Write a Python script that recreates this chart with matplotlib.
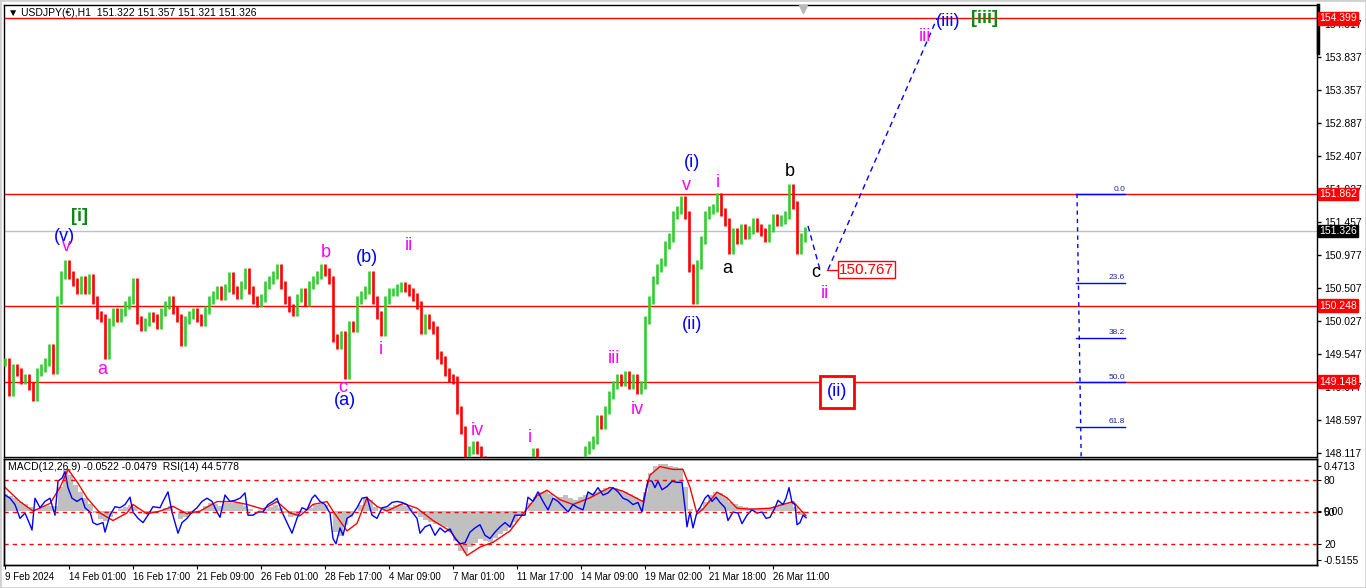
import matplotlib.pyplot as plt
import matplotlib.patches as mpatches
import numpy as np

plt.rcParams['font.family'] = ['Liberation Sans', 'DejaVu Sans']

# ================================ data ================================

# USDJPY H1 closes, read every 4 hourly bars (bar 0 = 9 Feb 2024)
bar_step = 4
closes = [
    149.43, 149.00, 149.35, 149.29, 149.17, 149.20, 149.09, 148.93, 149.29, 149.35,
    149.43, 149.64, 149.32, 150.33, 150.69, 150.84, 150.69, 150.59, 150.47, 150.62,
    150.47, 150.65, 150.33, 150.11, 150.07, 149.53, 150.01, 150.16, 150.07, 150.16,
    150.26, 150.33, 150.59, 150.04, 149.94, 150.01, 150.10, 150.07, 149.97, 150.16,
    150.26, 150.33, 150.18, 150.07, 149.72, 150.04, 150.11, 150.16, 150.07, 150.01,
    150.18, 150.33, 150.40, 150.47, 150.39, 150.50, 150.68, 150.47, 150.40, 150.55,
    150.73, 150.47, 150.33, 150.29, 150.36, 150.55, 150.62, 150.69, 150.79, 150.55,
    150.33, 150.21, 150.16, 150.36, 150.44, 150.30, 150.55, 150.62, 150.69, 150.79,
    150.73, 150.62, 149.78, 149.68, 149.82, 149.25, 149.97, 149.92, 150.33, 150.40,
    150.47, 150.69, 150.33, 150.11, 149.87, 150.33, 150.44, 150.44, 150.50, 150.53,
    150.50, 150.44, 150.37, 150.26, 149.90, 150.07, 149.97, 149.90, 149.53, 149.46,
    149.29, 149.20, 149.17, 148.74, 148.45, 148.09, 148.16, 148.23, 148.16, 148.02,
    147.87, 147.44, 147.15, 146.86, 147.01, 146.79, 147.01, 147.29, 147.44, 147.73,
    147.80, 147.87, 148.13, 147.87, 147.58, 147.44, 147.51, 147.66, 147.73, 147.80,
    147.76, 147.87, 147.90, 147.95, 147.99, 148.16, 148.23, 148.31, 148.60, 148.52,
    148.74, 148.96, 149.10, 149.20, 149.14, 149.25, 149.10, 149.20, 149.03, 149.10,
    150.04, 150.33, 150.62, 150.79, 150.88, 151.12, 151.23, 151.56, 151.63, 151.77,
    151.56, 150.79, 150.33, 150.84, 151.20, 151.56, 151.63, 151.66, 151.82, 151.60,
    151.46, 151.05, 151.31, 151.20, 151.37, 151.27, 151.34, 151.46, 151.37, 151.31,
    151.23, 151.37, 151.51, 151.46, 151.49, 151.56, 151.95, 151.70, 151.05, 151.23,
    151.33,
]

price_ticks = [154.317, 153.837, 153.357, 152.887, 152.407, 151.927, 151.457,
               150.977, 150.507, 150.027, 149.547, 149.077, 148.597, 148.117]
levels = [154.399, 151.862, 150.248, 149.148]
bid = 151.326

date_bars = [0, 64, 128, 192, 256, 320, 384, 448, 512, 576, 640, 704, 768]
date_labels = ['9 Feb 2024', '14 Feb 01:00', '16 Feb 17:00', '21 Feb 09:00',
               '26 Feb 01:00', '28 Feb 17:00', '4 Mar 09:00', '7 Mar 01:00',
               '11 Mar 17:00', '14 Mar 09:00', '19 Mar 02:00', '21 Mar 18:00',
               '26 Mar 11:00']

# Elliott wave labels
wave_bars = [75, 59, 61, 97, 321, 338, 340, 362, 376, 404, 472, 525, 609, 632,
             681, 687, 713, 687, 722, 785, 811, 820, 920, 943, 980]
wave_prices = [151.54, 151.24, 151.10, 149.32, 151.02, 149.06, 148.88, 150.95,
               149.62, 151.11, 148.44, 148.34, 149.48, 148.74, 151.99, 152.32,
               152.03, 149.98, 150.79, 152.18, 150.72, 150.42, 154.13, 154.35,
               154.40]
wave_texts = ['[i]', '(v)', 'v', 'a', 'b', 'c', '(a)', '(b)', 'i', 'ii', 'iv', 'i',
              'iii', 'iv', 'v', '(i)', 'i', '(ii)', 'a', 'b', 'c', 'ii', 'iii',
              '(iii)', '[iii]']
wave_colors = ['#118811', 'blue', 'magenta', 'magenta', 'magenta', 'magenta',
               'blue', 'blue', 'magenta', 'magenta', 'magenta', 'magenta',
               'magenta', 'magenta', 'magenta', 'blue', 'magenta', 'blue',
               'black', 'black', 'black', 'magenta', 'magenta', 'blue', '#118811']

# projected path
proj_down_bars = [803, 815]
proj_down_prices = [151.40, 150.767]
proj_up_bars = [823, 932]
proj_up_prices = [150.767, 154.399]
target = 150.767

# fibonacci retracement
fib_high = 151.862
fib_low = 146.42
fib_pcts = [0.0, 23.6, 38.2, 50.0, 61.8]

# MACD histogram (every 5 bars) and signal line
hist_step = 5
macd_hist = [
    0.18, 0.16, 0.14, 0.10, 0.07, 0.04, 0.02, 0.03, 0.05, 0.05,
    0.05, 0.25, 0.44, 0.38, 0.28, 0.20, 0.14, 0.07, -0.02, -0.08,
    -0.10, -0.06, 0.00, 0.02, 0.04, 0.06, 0.04, 0.00, -0.03, -0.02,
    -0.01, 0.00, 0.03, 0.05, 0.00, -0.08, -0.06, -0.03, -0.01, 0.00,
    0.05, 0.08, 0.07, 0.05, 0.09, 0.08, 0.08, 0.09, 0.05, 0.02,
    0.00, 0.01, 0.02, 0.04, 0.06, 0.03, -0.02, -0.06, -0.05, -0.02,
    0.00, 0.03, 0.06, 0.07, 0.06, 0.00, -0.22, -0.26, -0.15, -0.06,
    0.00, 0.06, 0.14, 0.12, 0.04, 0.00, 0.03, 0.04, 0.06, 0.07,
    0.05, 0.03, -0.02, -0.06, -0.09, -0.12, -0.14, -0.15, -0.17, -0.22,
    -0.32, -0.42, -0.44, -0.38, -0.34, -0.30, -0.32, -0.33, -0.28, -0.24,
    -0.21, -0.18, -0.12, -0.05, 0.00, 0.08, 0.15, 0.20, 0.21, 0.18,
    0.14, 0.15, 0.17, 0.14, 0.12, 0.15, 0.17, 0.19, 0.20, 0.22,
    0.24, 0.25, 0.24, 0.22, 0.20, 0.18, 0.15, 0.12, 0.20, 0.40,
    0.48, 0.50, 0.50, 0.48, 0.47, 0.45, 0.25, 0.02, 0.00, 0.03,
    0.10, 0.17, 0.20, 0.19, 0.15, 0.10, 0.07, 0.05, 0.04, 0.03,
    0.02, 0.02, 0.02, 0.03, 0.05, 0.07, 0.09, 0.10, 0.04, -0.04,
    -0.05,
]
signal_bars = [0, 15, 28, 45, 55, 63, 72, 82, 95, 108, 122, 128, 142, 155, 168,
               182, 195, 212, 228, 242, 258, 272, 285, 295, 308, 322, 328, 342,
               352, 362, 372, 382, 398, 412, 428, 445, 455, 462, 475, 488, 505,
               518, 532, 542, 555, 568, 585, 605, 618, 638, 645, 655, 668, 678,
               685, 692, 698, 712, 722, 732, 745, 765, 778, 788, 801]
signal_vals = [0.25, 0.10, 0.00, 0.08, 0.25, 0.44, 0.31, 0.14, -0.02, -0.10,
               -0.02, 0.07, -0.03, 0.00, 0.05, -0.03, 0.00, 0.10, 0.10, 0.07,
               0.02, 0.10, -0.02, -0.05, 0.07, 0.10, 0.00, -0.21, -0.13, 0.14,
               0.05, 0.00, 0.08, 0.03, -0.10, -0.21, -0.35, -0.47, -0.38, -0.33,
               -0.21, -0.03, 0.16, 0.22, 0.12, 0.07, 0.14, 0.25, 0.21, 0.10,
               0.38, 0.47, 0.44, 0.44, 0.25, -0.03, 0.02, 0.20, 0.14, 0.03,
               0.02, 0.03, 0.07, 0.10, -0.05]

# RSI(14)
rsi_bars = [0, 5, 10, 15, 20, 25, 27, 30, 35, 40,
            45, 50, 53, 57, 60, 63, 67, 72, 77, 80,
            85, 88, 92, 98, 100, 105, 110, 115, 120, 125,
            128, 133, 138, 143, 148, 155, 158, 163, 167, 170,
            173, 177, 182, 187, 192, 197, 202, 207, 212, 215,
            220, 225, 230, 235, 240, 243, 248, 253, 258, 263,
            268, 272, 277, 282, 287, 292, 297, 302, 307, 310,
            315, 320, 325, 328, 331, 335, 338, 342, 347, 352,
            357, 362, 367, 372, 377, 382, 387, 392, 397, 402,
            407, 412, 415, 420, 425, 430, 435, 440, 445, 450,
            455, 460, 465, 470, 475, 480, 485, 490, 495, 500,
            505, 510, 515, 520, 523, 528, 533, 538, 543, 548,
            553, 558, 563, 568, 573, 578, 583, 588, 593, 598,
            603, 608, 613, 618, 623, 628, 633, 637, 640, 643,
            647, 650, 653, 657, 662, 667, 672, 677, 680, 682,
            685, 688, 692, 695, 700, 703, 707, 711, 715, 720,
            723, 728, 733, 737, 742, 747, 752, 757, 761, 765,
            770, 773, 778, 781, 784, 787, 790, 792, 795, 798,
            801]
rsi_vals = [66, 63, 57, 44, 49, 38, 33, 63, 54, 60,
            63, 47, 79, 82, 88, 73, 63, 60, 63, 54,
            50, 40, 38, 40, 31, 47, 55, 54, 57, 64,
            50, 44, 40, 47, 55, 54, 60, 69, 50, 40,
            30, 40, 44, 50, 54, 60, 63, 60, 50, 45,
            66, 60, 61, 63, 68, 47, 47, 50, 50, 57,
            60, 63, 50, 40, 30, 44, 54, 52, 63, 66,
            60, 57, 49, 25, 20, 35, 28, 44, 47, 54,
            63, 64, 47, 44, 54, 55, 59, 60, 59, 57,
            50, 44, 30, 36, 38, 28, 35, 31, 34, 25,
            20, 21, 31, 35, 38, 28, 25, 31, 36, 40,
            36, 47, 47, 47, 64, 60, 69, 60, 52, 63,
            60, 55, 50, 57, 54, 52, 69, 66, 73, 66,
            68, 73, 69, 63, 61, 57, 59, 50, 66, 80,
            79, 73, 79, 71, 74, 79, 78, 78, 54, 36,
            50, 35, 50, 54, 63, 66, 60, 64, 59, 54,
            42, 50, 49, 39, 47, 52, 49, 50, 44, 45,
            54, 61, 57, 63, 73, 59, 57, 38, 40, 47,
            44.58]
rsi_levels = [80, 50, 20]

# ================================ figure ================================

W, H = 1366, 588
fig = plt.figure(figsize=(W / 100, H / 100), dpi=100)
fig.patch.set_facecolor('white')

ax = fig.add_axes([4 / W, 1 - 457 / H, 1313 / W, 452 / H])
axm = fig.add_axes([4 / W, 1 - 565 / H, 1313 / W, 106 / H])

xlim = (-1, 1312)

# ----- price bars -----
c = np.array(closes)
x = np.arange(len(c)) * bar_step
prev = np.r_[c[0], c[:-1]]
lo = np.minimum(prev, c) - 0.06
hi = np.maximum(prev, c) + 0.06
cols = np.where(c >= prev, '#32cd32', '#ff0000')
ax.vlines(x, lo, hi, colors=cols, lw=1.9, zorder=3)

ax.set_xlim(*xlim)
ax.set_ylim(148.06, 154.592)

# horizontal levels + tags
for lv in levels:
    ax.axhline(lv, color='red', lw=1, zorder=2)
    ax.text(1.0015, lv, f'{lv:.3f}', transform=ax.get_yaxis_transform(),
            color='white', fontsize=7.5, ha='left', va='center', zorder=10,
            clip_on=False,
            bbox=dict(boxstyle='square,pad=0.12', fc='red', ec='red'))
ax.axhline(bid, color='#c0c0c0', lw=1, zorder=1)
ax.text(1.0015, bid, f'{bid:.3f}', transform=ax.get_yaxis_transform(),
        color='white', fontsize=7.5, ha='left', va='center', zorder=10,
        clip_on=False, bbox=dict(boxstyle='square,pad=0.12', fc='black', ec='black'))

# projection
ax.plot(proj_down_bars, proj_down_prices, color='blue', lw=1, ls=(0, (4, 3)), zorder=4)
ax.plot(proj_up_bars, proj_up_prices, color='blue', lw=1, ls=(0, (4, 3)), zorder=4)
ax.plot([822, 832], [target, target], color='red', lw=1, zorder=4)
ax.text(834, target, f'{target:.3f}', color='red', fontsize=11, ha='left',
        va='center', zorder=6,
        bbox=dict(boxstyle='square,pad=0.08', fc='white', ec='red', lw=1))

# wave labels
for b, p, t, col in zip(wave_bars, wave_prices, wave_texts, wave_colors):
    weight = 'bold' if t.startswith('[') else 'normal'
    ax.text(b, p, t, color=col, fontsize=13, ha='center', va='center',
            fontweight=weight, zorder=6)
ax.text(832, 149.00, '(ii)', color='blue', fontsize=13, ha='center', va='center',
        zorder=6, bbox=dict(boxstyle='square,pad=0.4', fc='white', ec='red', lw=2))

# fibonacci
ax.plot([1072, 1078], [fib_high, fib_low], color='blue', lw=1, ls=(0, (3, 3)), zorder=4)
for pct in fib_pcts:
    lvl = fib_high - pct / 100 * (fib_high - fib_low)
    ax.plot([1071, 1120], [lvl, lvl], color='blue', lw=1, zorder=4)
    ax.text(1120, lvl + 0.02, f'{pct:.1f}', color='#2020a0', fontsize=6,
            ha='right', va='bottom', zorder=5)

# right axis
ax.yaxis.tick_right()
ax.set_yticks(price_ticks)
ax.set_yticklabels([f'{t:.3f}' for t in price_ticks])
ax.tick_params(axis='y', length=3, width=1, pad=2, labelsize=7.5)
ax.set_xticks([])
for s in ax.spines.values():
    s.set_color('black')
    s.set_linewidth(1)
ax.plot([1.001, 1.001], [0.894, 1.0], transform=ax.transAxes, color='black',
        lw=2.5, clip_on=False, zorder=9)
ax.plot([798], [0.992], marker='v', ms=6, color='#b8b8b8',
        transform=ax.get_xaxis_transform(), clip_on=False, zorder=9)

# ----- MACD / RSI panel -----
hx = np.arange(len(macd_hist)) * hist_step
axm.fill_between(hx, 0, macd_hist, step='mid', color='#c0c0c0', lw=0)
axm.plot(signal_bars, signal_vals, color='red', lw=1)
axm.set_xlim(*xlim)
axm.set_ylim(-0.57, 0.55)

axr = axm.twinx()
axr.set_ylim(0, 100)
axr.plot(rsi_bars, rsi_vals, color='blue', lw=1)
for lv in rsi_levels:
    axr.axhline(lv, color='red', lw=1, ls=(0, (3, 3)))
axr.set_yticks(rsi_levels)
axr.set_yticklabels([str(v) for v in rsi_levels])
axr.tick_params(axis='y', length=3, pad=2, labelsize=7.5)

# twinx moves the original ticks to the left, so put them back on the right
axm.yaxis.tick_right()
axm.set_yticks([0.4713, 0.0, -0.5155])
axm.set_yticklabels(['0.4713', '0.00', '-0.5155'])
axm.tick_params(axis='y', length=3, pad=2, labelsize=7.5)

axm.set_xticks(date_bars)
axm.set_xticklabels(date_labels, ha='left')
axm.tick_params(axis='x', length=3, pad=2, labelsize=7)

for a in (axm, axr):
    for s in a.spines.values():
        s.set_color('black')
        s.set_linewidth(1)

# headers
fig.text(8 / W, 1 - 13 / H, '▼ USDJPY(€),H1  151.322 151.357 151.321 151.326',
         fontsize=7.5, va='center', ha='left')
fig.text(8 / W, 1 - 467 / H, 'MACD(12,26,9) -0.0522 -0.0479  RSI(14) 44.5778',
         fontsize=7.5, va='center', ha='left')

fig.add_artist(mpatches.Rectangle((0, 0), 1, 1, transform=fig.transFigure,
                                  fill=False, ec='#d0d0d0', lw=2))

fig.savefig('out.png', dpi=100)
